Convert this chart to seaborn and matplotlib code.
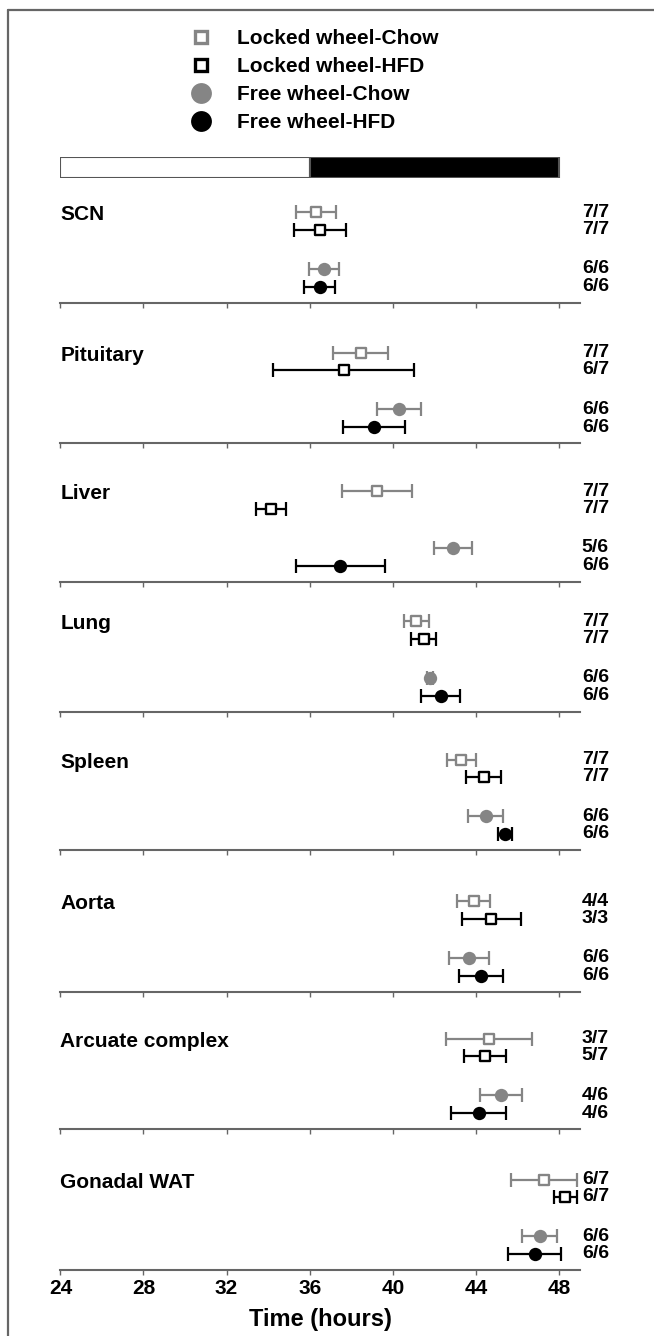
import matplotlib
matplotlib.use("Agg")
import matplotlib.pyplot as plt
from matplotlib.lines import Line2D
import numpy as np
import pandas as pd
import seaborn as sns

# ---------------- data ----------------
organs = ["SCN", "Pituitary", "Liver", "Lung", "Spleen", "Aorta",
          "Arcuate complex", "Gonadal WAT"]
groups = ["Locked wheel-Chow", "Locked wheel-HFD", "Free wheel-Chow", "Free wheel-HFD"]

lc_mean = [36.30, 38.45, 39.25, 41.13, 43.30, 43.90, 44.62, 47.27]
lc_err = [0.97, 1.31, 1.68, 0.60, 0.70, 0.80, 2.06, 1.58]
lh_mean = [36.48, 37.64, 34.15, 41.49, 44.38, 44.74, 44.44, 48.31]
lh_err = [1.25, 3.39, 0.73, 0.60, 0.83, 1.42, 1.02, 0.56]
fc_mean = [36.68, 40.31, 42.90, 41.81, 44.48, 43.66, 45.22, 47.07]
fc_err = [0.71, 1.06, 0.91, 0.15, 0.85, 0.96, 1.01, 0.85]
fh_mean = [36.48, 39.11, 37.48, 42.30, 45.40, 44.24, 44.14, 46.83]
fh_err = [0.76, 1.50, 2.16, 0.93, 0.35, 1.07, 1.33, 1.29]

lc_n = ["7/7", "7/7", "7/7", "7/7", "7/7", "4/4", "3/7", "6/7"]
lh_n = ["7/7", "6/7", "7/7", "7/7", "7/7", "3/3", "5/7", "6/7"]
fc_n = ["6/6", "6/6", "5/6", "6/6", "6/6", "6/6", "4/6", "6/6"]
fh_n = ["6/6", "6/6", "6/6", "6/6", "6/6", "6/6", "4/6", "6/6"]

light_dark_start = [24, 36]
light_dark_len = [12, 12]
x_ticks = [24, 28, 32, 36, 40, 44, 48]

# ---------------- style ----------------
sns.set_theme(style="white")
plt.rcParams["font.family"] = ["Liberation Sans", "DejaVu Sans"]
plt.rcParams["font.weight"] = "bold"
plt.rcParams["text.color"] = "black"
plt.rcParams["axes.labelcolor"] = "black"
plt.rcParams["xtick.labelcolor"] = "black"

GRAY = "#858585"
AX = "#666666"
W, H = 654, 1336
fig = plt.figure(figsize=(W / 100, H / 100), dpi=100)

def fx(px):
    return px / W

def fy(py):
    return 1 - py / H

x_left_px, x_right_px = 60.4, 579.7
ax_w = (x_right_px - x_left_px) / W

means = [lc_mean, lh_mean, fc_mean, fh_mean]
errs = [lc_err, lh_err, fc_err, fh_err]
counts = [lc_n, lh_n, fc_n, fh_n]
colors = [GRAY, "black", GRAY, "black"]
markers = ["s", "s", "o", "o"]
row_y = [4.3, 3.3, 1.04, 0.0]

panel_bottoms = [302.7, 443, 581.7, 711.7, 850, 991.7, 1129, 1270]
panel_h = 130
unit = 17.3

rows = []
for i, org in enumerate(organs):
    for g in range(4):
        rows.append(dict(organ=org, group=groups[g], time=means[g][i],
                         err=errs[g][i], n=counts[g][i], y=row_y[g]))
df = pd.DataFrame(rows)

for i, org in enumerate(organs):
    b = panel_bottoms[i]
    ax = fig.add_axes([fx(x_left_px), fy(b), ax_w, panel_h / H])
    sub = df[df.organ == org]
    for g in range(4):
        d = sub[sub.group == groups[g]]
        ax.errorbar(d.time, d.y, xerr=d.err, fmt="none", ecolor=colors[g],
                    elinewidth=1.6, capsize=5, capthick=1.6, zorder=2)
        if markers[g] == "s":
            sns.scatterplot(data=d, x="time", y="y", ax=ax, marker="s", s=49,
                            color=colors[g], facecolor="white",
                            edgecolor=colors[g], linewidth=1.7, zorder=3,
                            legend=False)
        else:
            sns.scatterplot(data=d, x="time", y="y", ax=ax, marker="o", s=92,
                            color=colors[g], edgecolor=colors[g], linewidth=0,
                            zorder=3, legend=False)
        for _, r in d.iterrows():
            ax.text(49.1, r.y, r.n, ha="left", va="center", fontsize=14,
                    fontweight="bold", color="black", clip_on=False)
    ax.text(24, row_y[0] - 0.15, org, ha="left", va="center", fontsize=15,
            fontweight="bold", color="black")
    ax.set_xlim(24, 49)
    ax.set_ylim(-16 / unit, (panel_h - 16) / unit)
    ax.set_xticks(x_ticks)
    ax.set_yticks([])
    ax.set_xlabel("")
    ax.set_ylabel("")
    for s in ["top", "left", "right"]:
        ax.spines[s].set_visible(False)
    ax.spines["bottom"].set_color(AX)
    ax.spines["bottom"].set_linewidth(1.5)
    ax.patch.set_alpha(0)
    ax.tick_params(axis="x", direction="out", length=3.8, width=1.0,
                   color=AX, labelcolor="black", bottom=True,
                   labelbottom=(i == len(organs) - 1), labelsize=15, pad=3)
    if i == len(organs) - 1:
        for t in ax.get_xticklabels():
            t.set_fontweight("bold")
        ax.set_xlabel("Time (hours)", fontsize=17, fontweight="bold",
                      labelpad=7, color="black")

# light/dark bar
bax = fig.add_axes([fx(x_left_px), fy(177.5), ax_w, 21 / H])
bax.barh([0], light_dark_len, left=light_dark_start, height=1.0,
         color=["white", "black"], edgecolor="#555555", linewidth=1.5)
bax.set_xlim(24, 49)
bax.set_ylim(-0.5, 0.5)
bax.axis("off")

# legend
handles = [
    Line2D([], [], ls="none", marker="s", ms=8.6, mfc="white", mec=GRAY, mew=2.4),
    Line2D([], [], ls="none", marker="s", ms=8.6, mfc="white", mec="black", mew=2.4),
    Line2D([], [], ls="none", marker="o", ms=15, mfc=GRAY, mec=GRAY, mew=0),
    Line2D([], [], ls="none", marker="o", ms=15, mfc="black", mec="black", mew=0),
]
leg = fig.legend(handles, groups, loc="upper left",
                 bbox_to_anchor=(fx(190.6), fy(29)), frameon=False,
                 handlelength=1.0, handletextpad=1.25, labelspacing=0.43,
                 borderpad=0, borderaxespad=0, prop={"weight": "bold", "size": 15})
for t in leg.get_texts():
    t.set_color("black")

# outer frame (top and left)
fig.add_artist(Line2D([fx(8.3), 1], [fy(9.7), fy(9.7)], color=AX, lw=1.6))
fig.add_artist(Line2D([fx(8.3), fx(8.3)], [fy(9.7), 0], color=AX, lw=1.6))

fig.savefig("out.png", dpi=100)
